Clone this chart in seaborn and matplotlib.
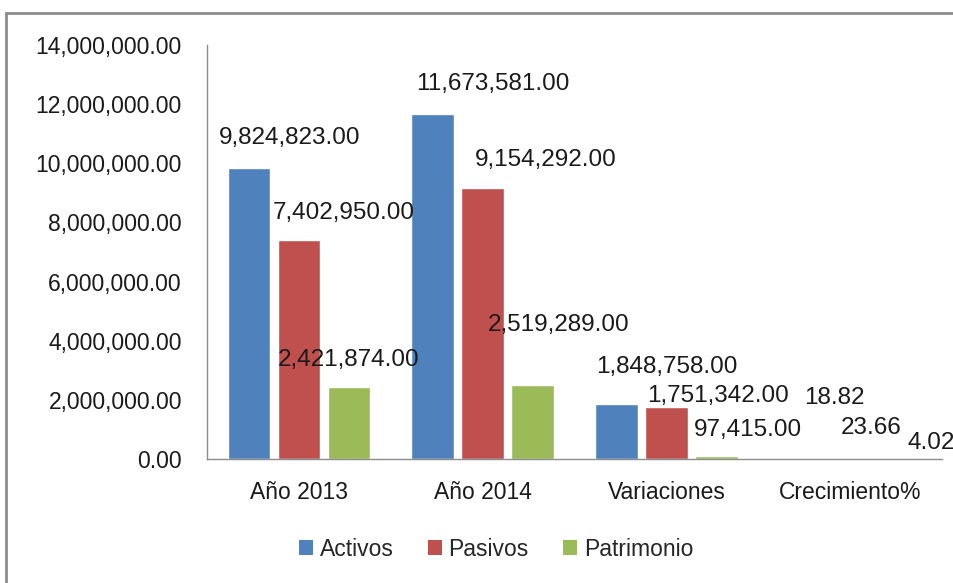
import matplotlib
matplotlib.use("Agg")
import matplotlib.pyplot as plt
from matplotlib.patches import Rectangle, Patch
from matplotlib.ticker import FuncFormatter, MultipleLocator
import seaborn as sns
import pandas as pd

categories = ["Año 2013", "Año 2014", "Variaciones", "Crecimiento%"]
series = ["Activos", "Pasivos", "Patrimonio"]
activos = [9824823.00, 11673581.00, 1848758.00, 18.82]
pasivos = [7402950.00, 9154292.00, 1751342.00, 23.66]
patrimonio = [2421874.00, 2519289.00, 97415.00, 4.02]
colors = ["#4F81BD", "#C0504D", "#9BBB59"]

rows = []
for name, vals in zip(series, [activos, pasivos, patrimonio]):
    for c, v in zip(categories, vals):
        rows.append({"cat": c, "serie": name, "val": v})
df = pd.DataFrame(rows)

sns.set_style("white")
plt.rcParams["font.family"] = ["Liberation Sans", "DejaVu Sans"]

fig = plt.figure(figsize=(9.54, 5.83), dpi=100)
ax = fig.add_axes([207/954, 1-459/583, (942-207)/954, (459-45)/583])

sns.barplot(data=df, x="cat", y="val", hue="serie", order=categories,
            hue_order=series, palette=colors, width=0.816, gap=0.15,
            ax=ax, legend=False, errorbar=None, saturation=1)

ax.set_ylim(0, 14000000)
ax.set_xlim(-0.5, 3.5)
ax.yaxis.set_major_locator(MultipleLocator(2000000))
ax.yaxis.set_major_formatter(FuncFormatter(lambda v, p: f"{v:,.2f}"))
ax.set_xlabel("")
ax.set_ylabel("")
for s in ["top", "right"]:
    ax.spines[s].set_visible(False)
for s in ["left", "bottom"]:
    ax.spines[s].set_color("#8c8c8c")
    ax.spines[s].set_linewidth(1.0)
ax.tick_params(axis="both", length=0)
ax.tick_params(axis="y", pad=18)
ax.tick_params(axis="x", pad=16)
for t in ax.get_yticklabels():
    t.set_fontsize(16.5)
    t.set_color("#1a1a1a")
for t in ax.get_xticklabels():
    t.set_fontsize(16.5)
    t.set_color("#1a1a1a")

# data label offsets (pixels) relative to the top centre of each bar
offsets = [
    [(41, 30), (60, 30), (50, 37), (34, 61)],
    [(45, 27), (63, 28), (52, 11), (21, 31)],
    [(0, 27), (26, 60), (32, 26), (31, 16)],
]
for cont, offs in zip(ax.containers, offsets):
    for bar, (dx, dy) in zip(cont, offs):
        v = bar.get_height()
        ax.annotate(f"{v:,.2f}", (bar.get_x() + bar.get_width()/2, v),
                    xytext=(dx, dy), textcoords="offset pixels",
                    ha="center", va="center", fontsize=17.5,
                    color="#1a1a1a", annotation_clip=False)

handles = [Patch(facecolor=c, edgecolor="none") for c in colors]
fig.legend(handles, series, loc="center", bbox_to_anchor=(496/954, 1-549/583),
           ncol=3, frameon=False, fontsize=16.5, handlelength=0.6,
           handleheight=0.6, handletextpad=0.3, columnspacing=1.5)

fig.patches.append(Rectangle((6/954, -0.05), 1.1, 1-13/583+0.05,
                             transform=fig.transFigure, fill=False,
                             edgecolor="#8c8c8c", linewidth=2.0))

fig.savefig("out.png", dpi=100)
